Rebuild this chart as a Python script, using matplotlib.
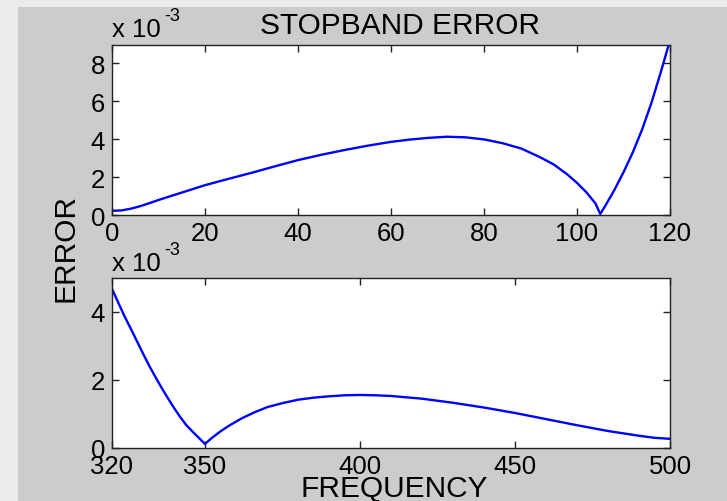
import matplotlib
matplotlib.use("Agg")
import matplotlib.pyplot as plt
from matplotlib.patches import Rectangle

plt.rcParams['font.family'] = ['Liberation Sans', 'DejaVu Sans']

# Low stopband: frequency and error (units of 1e-3)
freq_low = [0, 2, 4, 6, 8, 10, 15, 20, 25, 30, 35, 40, 45, 50, 55, 60, 64, 68,
            72, 76, 80, 84, 88, 92, 95, 98, 100, 102, 104, 105, 106, 108, 110,
            112, 114, 116, 118, 120]
err_low = [0.22, 0.24, 0.33, 0.46, 0.62, 0.79, 1.18, 1.57, 1.90, 2.22, 2.56,
           2.89, 3.17, 3.42, 3.65, 3.85, 3.97, 4.06, 4.12, 4.09, 3.98, 3.78,
           3.50, 3.05, 2.66, 2.12, 1.69, 1.20, 0.60, 0.05, 0.45, 1.30, 2.25,
           3.30, 4.50, 5.90, 7.50, 9.20]

# High stopband: frequency and error (units of 1e-3)
freq_high = [320, 322, 324, 326, 328, 330, 332, 334, 336, 338, 340, 342, 344,
             346, 348, 350, 352, 355, 358, 362, 366, 370, 375, 380, 385, 390,
             395, 400, 405, 410, 415, 420, 430, 440, 450, 460, 470, 480, 490,
             495, 500]
err_high = [4.68, 4.28, 3.88, 3.52, 3.15, 2.78, 2.42, 2.09, 1.77, 1.47, 1.18,
            0.91, 0.67, 0.48, 0.30, 0.12, 0.28, 0.49, 0.67, 0.88, 1.05, 1.20,
            1.32, 1.42, 1.48, 1.52, 1.55, 1.56, 1.55, 1.53, 1.49, 1.45, 1.33,
            1.19, 1.03, 0.85, 0.67, 0.50, 0.36, 0.30, 0.27]

xticks_low = [0, 20, 40, 60, 80, 100, 120]
yticks_low = [0, 2, 4, 6, 8]
xticks_high = [320, 350, 400, 450, 500]
yticks_high = [0, 2, 4]

W, H = 727, 502
fig = plt.figure(figsize=(W / 100, H / 100), dpi=100)
fig.patch.set_facecolor('#ebebeb')
fig.patches.append(Rectangle((18 / W, 0), 1 - 18 / W, 1 - 8 / H,
                             transform=fig.transFigure, facecolor='#cccccc',
                             edgecolor='none', zorder=-10))

TICK_FS = 18.5
LABEL_FS = 21.5
LINE_BLUE = '#0000ff'
FRAME = '#222222'


def px_box(left, top, right, bottom):
    return [left / W, 1 - bottom / H, (right - left) / W, (bottom - top) / H]


def style_axes(ax, xlim, ylim, xticks, yticks):
    ax.set_facecolor('white')
    ax.set_xlim(*xlim)
    ax.set_ylim(*ylim)
    ax.set_xticks(xticks)
    ax.set_yticks(yticks)
    ax.set_xticklabels([str(v) for v in xticks])
    ax.set_yticklabels([str(v) for v in yticks])
    ax.tick_params(direction='in', top=True, right=True, length=5, width=1,
                   color=FRAME, labelsize=TICK_FS, labelcolor='black')
    ax.tick_params(axis='y', pad=5)
    ax.tick_params(axis='x', pad=4)
    for s in ax.spines.values():
        s.set_color(FRAME)
        s.set_linewidth(1.0)


def exponent_label(base_px):
    # "x 10" with a raised "-3" right after it, above the axes' top-left corner
    fig.text(112 / W, 1 - base_px / H, 'x 10', fontsize=TICK_FS,
             ha='left', va='baseline', color='black')
    fig.text(164 / W, 1 - (base_px - 16) / H, '-3', fontsize=13,
             ha='left', va='baseline', color='black')


ax1 = fig.add_axes(px_box(112, 46, 670, 216))
ax1.plot(freq_low, err_low, color=LINE_BLUE, lw=1.7)
style_axes(ax1, (0, 120), (0, 8.95), xticks_low, yticks_low)

ax2 = fig.add_axes(px_box(112, 279, 670, 449))
ax2.plot(freq_high, err_high, color=LINE_BLUE, lw=1.7)
style_axes(ax2, (320, 500), (0, 5), xticks_high, yticks_high)

exponent_label(37)
exponent_label(271)

fig.text(400 / W, 1 - 26 / H, 'STOPBAND ERROR', fontsize=LABEL_FS,
         ha='center', va='center', color='black')
fig.text(66 / W, 1 - 247.5 / H, 'ERROR', fontsize=LABEL_FS, rotation=90,
         ha='center', va='center', color='black')
fig.text(394 / W, 1 - 489 / H, 'FREQUENCY', fontsize=LABEL_FS,
         ha='center', va='center', color='black')

fig.savefig('out.png', dpi=100, facecolor=fig.get_facecolor())
